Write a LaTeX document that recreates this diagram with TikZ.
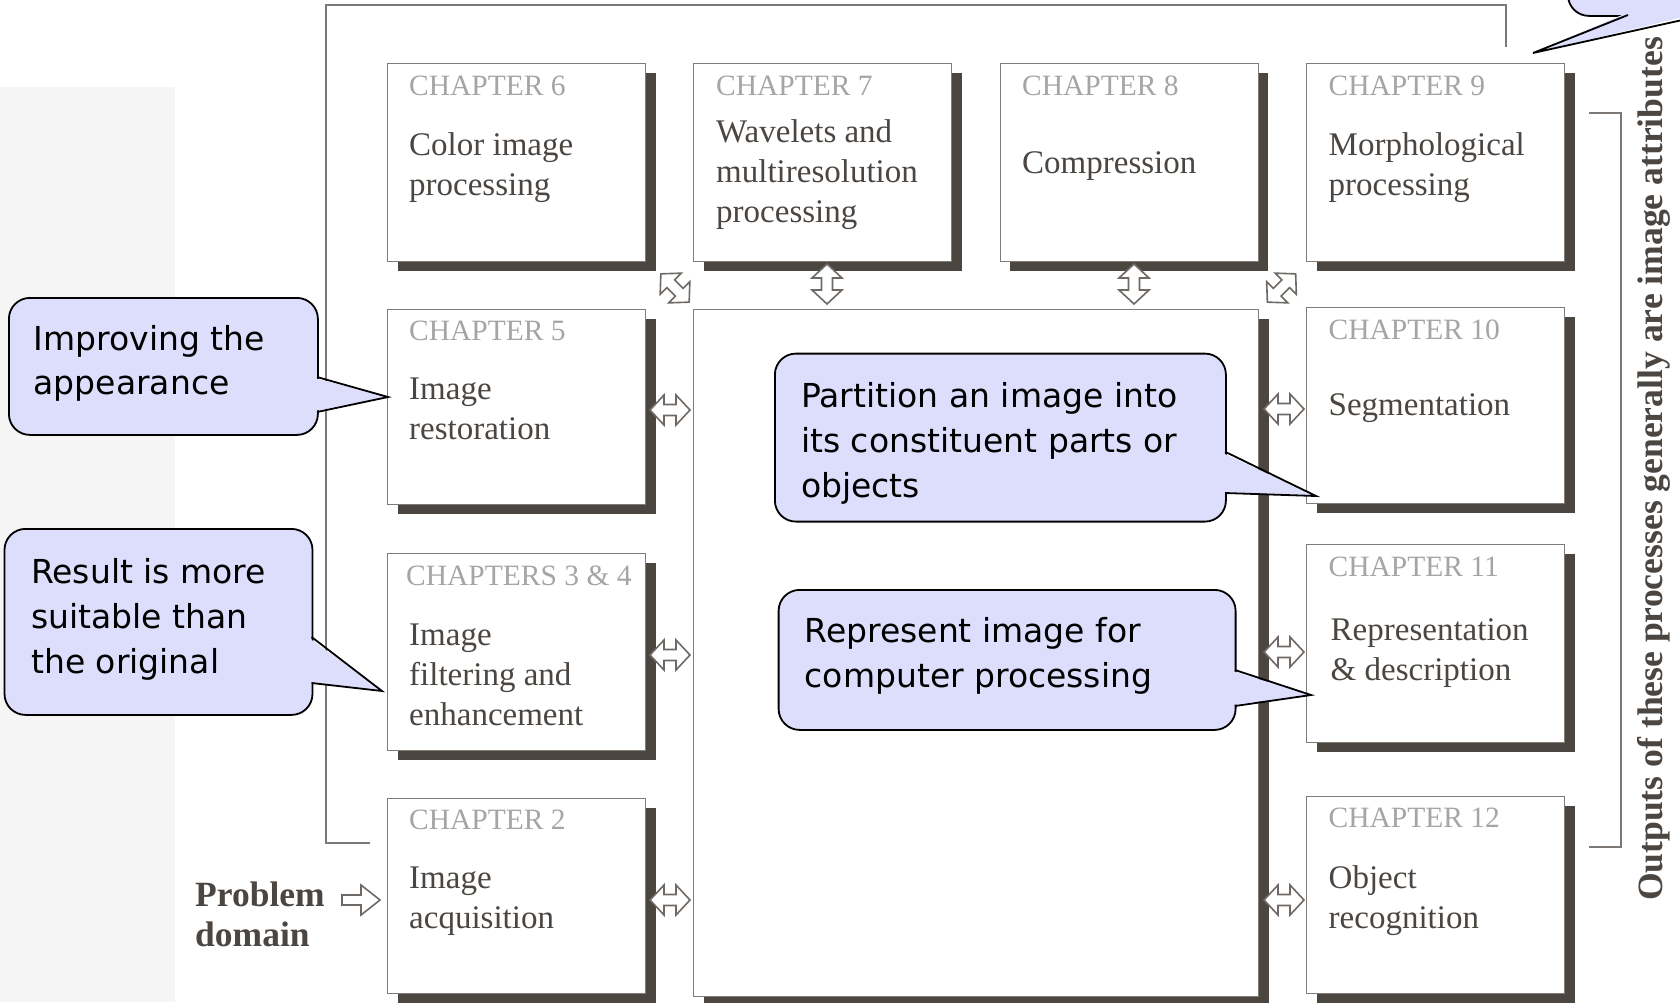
\documentclass[tikz,border=0pt]{standalone}
\usepackage{fontspec}
\setmainfont{Liberation Serif}
\newfontfamily\calloutfont{DejaVu Sans}
\usetikzlibrary{shadows,calc}

\definecolor{shadowc}{RGB}{75,70,63}
\definecolor{boxline}{RGB}{128,123,118}
\definecolor{arrowc}{RGB}{110,105,100}
\definecolor{hdrtxt}{RGB}{165,165,165}
\definecolor{bodytxt}{RGB}{75,70,65}
\definecolor{framec}{RGB}{125,120,115}
\definecolor{calloutfill}{RGB}{221,221,252}
\definecolor{panelc}{RGB}{245,245,245}

% left-aligned lines with a fixed baseline distance; the baseline is the first line's
\newcommand\rows[2]{\vtop{\baselineskip=#1\relax\lineskiplimit=-500pt\lineskip=0pt\halign{##\hfil\cr#2\crcr}}}

\tikzset{
  chbox/.style={draw=boxline, line width=1.3pt, fill=white, anchor=north west, inner sep=0pt,
    drop shadow={shadow xshift=10pt, shadow yshift=-9pt, fill=shadowc, opacity=1}},
  hdr/.style={anchor=base west, inner sep=0pt, text=hdrtxt, font=\fontsize{29.5}{34}\selectfont},
  bodytext/.style={anchor=base west, inner sep=0pt, text=bodytxt, font=\fontsize{33}{40}\selectfont},
  calloutbox/.style={draw=black, line width=1.8pt, fill=calloutfill, rounded corners=21pt, anchor=north west, inner sep=0pt},
  callouttext/.style={anchor=base west, inner sep=0pt, text=black, font=\calloutfont\fontsize{33}{45}\selectfont},
  pointer/.style={draw=black, line width=1.8pt, line join=miter},
  frameline/.style={draw=framec, line width=1.8pt},
  arrowline/.style={draw=arrowc, line width=1.6pt, fill=white, line join=miter},
  dblarrow/.pic={\path[arrowline] (-20,0) -- (-6,-15) -- (-6,-5.5) -- (6,-5.5) -- (6,-15) -- (20,0)
      -- (6,15) -- (6,5.5) -- (-6,5.5) -- (-6,15) -- cycle;},
  sglarrow/.pic={\path[arrowline] (-19,-5) -- (0,-5) -- (0,-15) -- (19,0) -- (0,15) -- (0,5) -- (-19,5) -- cycle;},
}

\begin{document}
\begin{tikzpicture}[x=1pt,y=-1pt]
\path[use as bounding box, fill=white] (0,0) rectangle (1680,1002);

% light side panel
\fill[panelc] (0,87) rectangle (175,1002);

% feedback frame around the processing stages
\draw[frameline] (370,843) -- (326,843) -- (326,5) -- (1506,5) -- (1506,47);

% chapter boxes
\node[chbox, minimum width=258, minimum height=198] (ch6) at (387,63) {};
\node[chbox, minimum width=258, minimum height=198] (ch7) at (693,63) {};
\node[chbox, minimum width=258, minimum height=198] (ch8) at (999.5,63) {};
\node[chbox, minimum width=258, minimum height=198] (ch9) at (1306,63) {};
\node[chbox, minimum width=258, minimum height=195] (ch5) at (387,309) {};
\node[chbox, minimum width=258, minimum height=197] (ch34) at (387,553) {};
\node[chbox, minimum width=258, minimum height=195] (ch2) at (387,798) {};
\node[chbox, minimum width=258, minimum height=196] (ch10) at (1306,307) {};
\node[chbox, minimum width=258, minimum height=198] (ch11) at (1306,544) {};
\node[chbox, minimum width=258, minimum height=197] (ch12) at (1306,796) {};
\node[chbox, minimum width=565, minimum height=687] (core) at (693,309) {};

% chapter titles
\node[hdr] at ($(ch6.north west)+(22,32.5)$) {CHAPTER 6};
\node[bodytext] at ($(ch6.north west)+(22,92)$) {\rows{40pt}{Color image\cr processing}};
\node[hdr] at ($(ch7.north west)+(23,32.5)$) {CHAPTER 7};
\node[bodytext] at ($(ch7.north west)+(23,79.5)$) {\rows{40pt}{Wavelets and\cr multiresolution\cr processing}};
\node[hdr] at ($(ch8.north west)+(22.5,32.5)$) {CHAPTER 8};
\node[bodytext] at ($(ch8.north west)+(22.5,110.5)$) {Compression};
\node[hdr] at ($(ch9.north west)+(22.5,32.5)$) {CHAPTER 9};
\node[bodytext] at ($(ch9.north west)+(22.5,92)$) {\rows{40pt}{Morphological\cr processing}};
\node[hdr] at ($(ch5.north west)+(22,31.5)$) {CHAPTER 5};
\node[bodytext] at ($(ch5.north west)+(22,90)$) {\rows{40pt}{Image\cr restoration}};
\node[hdr] at ($(ch34.north west)+(19,32.5)$) {CHAPTERS 3 \& 4};
\node[bodytext] at ($(ch34.north west)+(22,92)$) {\rows{40pt}{Image\cr filtering and\cr enhancement}};
\node[hdr] at ($(ch2.north west)+(22,31)$) {CHAPTER 2};
\node[bodytext] at ($(ch2.north west)+(22,90.5)$) {\rows{40pt}{Image\cr acquisition}};
\node[hdr] at ($(ch10.north west)+(22.5,32)$) {CHAPTER 10};
\node[bodytext] at ($(ch10.north west)+(22.5,108)$) {Segmentation};
\node[hdr] at ($(ch11.north west)+(22.5,32)$) {CHAPTER 11};
\node[bodytext] at ($(ch11.north west)+(24.5,96.5)$) {\rows{40pt}{Representation\cr \& description}};
\node[hdr] at ($(ch12.north west)+(22.5,31.5)$) {CHAPTER 12};
\node[bodytext] at ($(ch12.north west)+(22.5,92.5)$) {\rows{40pt}{Object\cr recognition}};

% input
\node[anchor=base west, inner sep=0pt, text=bodytxt, font=\bfseries\fontsize{35.5}{39}\selectfont] (problem) at (195,906.7)
  {\rows{39.3pt}{Problem\cr domain}};
\pic at (361,900) {sglarrow};

% links between the stages and the knowledge base
\pic[rotate=-45] at (675,288) {dblarrow};
\pic[rotate=90] at (827,284) {dblarrow};
\pic[rotate=90] at (1134,284) {dblarrow};
\pic[rotate=45] at (1281.5,288) {dblarrow};
\pic at (670,410) {dblarrow};
\pic at (670,655) {dblarrow};
\pic at (670,900) {dblarrow};
\pic at (1284,409) {dblarrow};
\pic at (1284,652) {dblarrow};
\pic at (1284,900) {dblarrow};

% outputs bracket and its label
\draw[frameline] (1589,113) -- (1621,113) -- (1621,847) -- (1589,847);
\node[rotate=90, anchor=base, inner sep=0pt, text=bodytxt, font=\bfseries\fontsize{35.6}{40}\selectfont] (outputs) at (1662,469)
  {Outputs of these processes generally are image attributes};

% callouts
\node[calloutbox, minimum width=309, minimum height=137] (c1) at (8,297) {};
\fill[calloutfill] (314,378) -- (388,397) -- (314,411) -- cycle;
\draw[pointer] (317,377) -- (388,397) -- (317,412);
\node[callouttext] at ($(c1.north west)+(25.5,53)$) {\rows{44pt}{Improving the\cr appearance}};

\node[calloutbox, minimum width=308, minimum height=186] (c2) at (3.6,528) {};
\fill[calloutfill] (309,638) -- (382,691) -- (309,682) -- cycle;
\draw[pointer] (311.6,637) -- (382,691) -- (311.6,683);
\node[callouttext] at ($(c2.north west)+(27.4,55)$) {\rows{45pt}{Result is more\cr suitable than\cr the original}};

\node[calloutbox, minimum width=451, minimum height=168] (c3) at (774,352.7) {};
\fill[calloutfill] (1222,452.7) -- (1316,496) -- (1222,492) -- cycle;
\draw[pointer] (1225,451.7) -- (1316,496) -- (1225,493);
\node[callouttext] at ($(c3.north west)+(27,54.3)$) {\rows{45pt}{Partition an image into\cr its constituent parts or\cr objects}};

\node[calloutbox, minimum width=457, minimum height=140] (c4) at (777.7,589) {};
\fill[calloutfill] (1232,671) -- (1311,695) -- (1232,705) -- cycle;
\draw[pointer] (1235,670) -- (1311,695) -- (1235,706);
\node[callouttext] at ($(c4.north west)+(26.8,53)$) {\rows{45pt}{Represent image for\cr computer processing}};

\begin{scope}
  \clip (0,0) rectangle (1680,1002);
  \node[calloutbox, minimum width=400, minimum height=215] (c5) at (1567,-200) {};
  \fill[calloutfill] (1629,12) -- (1533,53) -- (1704,12) -- cycle;
  \draw[pointer] (1628,15) -- (1533,53) -- (1705,15);
\end{scope}
\end{tikzpicture}
\end{document}
